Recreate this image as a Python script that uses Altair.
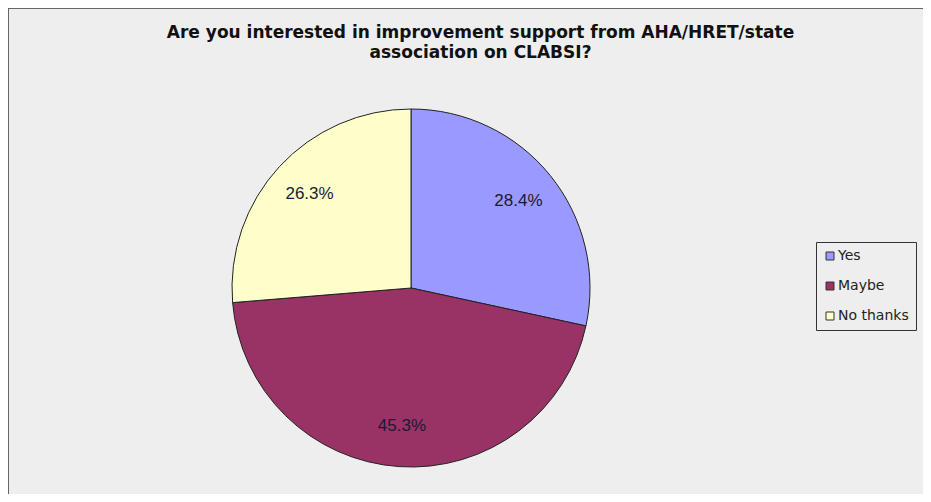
import altair as alt
import pandas as pd

categories = ["Yes", "Maybe", "No thanks"]
values = [28.4, 45.3, 26.3]
labels = ["28.4%", "45.3%", "26.3%"]
colors = ["#9999ff", "#993366", "#ffffcc"]

df = pd.DataFrame({"cat": categories, "val": values, "lab": labels, "order": [0, 1, 2]})

cx, cy = 403, 280

base = alt.Chart(df).encode(
    theta=alt.Theta("val:Q", stack=True),
    order=alt.Order("order:Q"),
)

pie = base.mark_arc(outerRadius=179, stroke="#222222", strokeWidth=1).encode(
    x=alt.value(cx), y=alt.value(cy),
    color=alt.Color(
        "cat:N",
        scale=alt.Scale(domain=categories, range=colors),
        sort=categories,
        legend=alt.Legend(
            title=None,
            orient="none",
            legendX=808,
            legendY=234,
            symbolType="square",
            symbolSize=64,
            symbolStrokeColor="#333333",
            symbolStrokeWidth=1,
            labelFont="DejaVu Sans",
            labelFontSize=14,
            labelColor="#222222",
            rowPadding=16,
            padding=7,
            strokeColor="#333333",
            fillColor="#eeeeee",
            labelOffset=1,
        ),
    ),
)

text = base.mark_text(radius=138, font="Liberation Sans", fontSize=17, color="#1a1a33").encode(
    x=alt.value(cx), y=alt.value(cy),
    text="lab:N",
)

frame_df = pd.DataFrame({"k": [0]})
left_edge = alt.Chart(frame_df).mark_rule(color="#666666", strokeWidth=2).encode(
    x=alt.value(0), y=alt.value(0), y2=alt.value(486)
)
top_edge = alt.Chart(frame_df).mark_rule(color="#666666", strokeWidth=2).encode(
    x=alt.value(0), x2=alt.value(915), y=alt.value(0)
)

chart = (pie + text + left_edge + top_edge).properties(
    width=915,
    height=486,
    background="#eeeeee",
    padding=0,
    autosize=alt.AutoSizeParams(type="none"),
    title=alt.TitleParams(
        text=["Are you interested in improvement support from AHA/HRET/state", "association on CLABSI?"],
        font="DejaVu Sans",
        fontSize=17,
        fontWeight="bold",
        color="#111111",
        anchor="middle",
        offset=-55,
        dx=15,
        lineHeight=20,
    ),
).configure_view(strokeWidth=0, fill="#eeeeee")

chart.save("out.html", embed_options={"renderer": "svg", "actions": False})
